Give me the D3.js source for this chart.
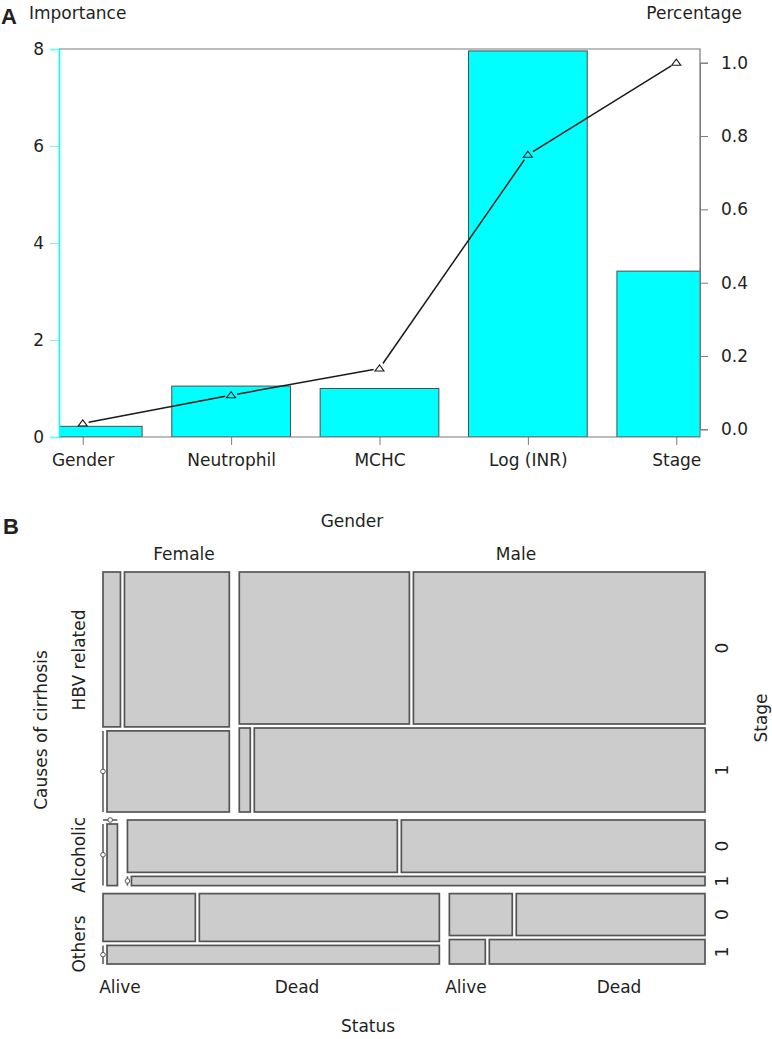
<!DOCTYPE html>
<html>
<head>
<meta charset="utf-8">
<script src="https://cdn.jsdelivr.net/npm/d3@7"></script>
<style>
  body { margin: 0; background: #fff; }
  text { font-family: "DejaVu Sans", sans-serif; fill: #231f20; }
</style>
</head>
<body>
<svg id="chart" width="772" height="1039"></svg>
<script>
// ---- panel A data
const features = ["Gender", "Neutrophil", "MCHC", "Log (INR)", "Stage"];
const importance = [0.22, 1.05, 1.00, 7.96, 3.42];
const cumPercent = [0.016, 0.093, 0.166, 0.749, 1.0];
const importanceTicks = [0, 2, 4, 6, 8];
const percentTicks = [0, 0.2, 0.4, 0.6, 0.8, 1.0];

// ---- panel B data, counts[gender][stage][status]
const causes = ["HBV related", "Alcoholic", "Others"];
const genders = ["Female", "Male"];
const stages = ["0", "1"];
const statuses = ["Alive", "Dead"];
const hbvCounts = [[[3, 18], [0, 11]], [[28, 48], [1, 41]]];
const alcoholicCounts = [[[0, 0], [0, 1]], [[16, 18], [0, 6]]];
const othersCounts = [[[5, 13], [0, 7]], [[3, 9], [1, 6]]];

const svg = d3.select('#chart');
const axisGrey = '#7a7a7a';

// ================= panel A =================
const plotA = { left: 59, right: 700, top: 49, bottom: 437 };
const x = d3.scaleLinear().domain([0.84, 5.16]).range([plotA.left, plotA.right]);
const y = d3.scaleLinear().domain([0, 8]).range([plotA.bottom, plotA.top]);
const yPct = d3.scaleLinear().domain([0, 1]).range([429.3, 62.7]);

svg.append('text').attr('x', 1).attr('y', 24)
  .style('font-family', '"Liberation Sans", Arial, sans-serif')
  .style('font-weight', 'bold').style('font-size', '22px').text('A');
svg.append('text').attr('x', 29).attr('y', 19).style('font-size', '17px').text('Importance');
svg.append('text').attr('x', 742).attr('y', 19).attr('text-anchor', 'end')
  .style('font-size', '17px').text('Percentage');

svg.append('clipPath').attr('id', 'clipA').append('rect')
  .attr('x', plotA.left).attr('y', plotA.top)
  .attr('width', plotA.right - plotA.left).attr('height', plotA.bottom - plotA.top);

let bars = svg.append('g').attr('clip-path', 'url(#clipA)')
  .selectAll('rect').data(importance);
bars.enter().append('rect')
  .attr('x', (d, i) => x(i + 1 - 0.4))
  .attr('width', x(1.8) - x(1))
  .attr('y', d => y(d))
  .attr('height', d => y(0) - y(d))
  .attr('fill', '#00ffff')
  .attr('stroke', '#4d4d4d')
  .attr('stroke-width', 1);

// box
svg.append('path')
  .attr('d', `M${plotA.left},${plotA.top}H${plotA.right}V${plotA.bottom}H${plotA.left}`)
  .attr('fill', 'none').attr('stroke', axisGrey).attr('stroke-width', 1.2);

// left axis (cyan)
const leftAxis = svg.append('g').attr('transform', `translate(${plotA.left},0)`)
  .call(d3.axisLeft(y).tickValues(importanceTicks).tickSize(9).tickPadding(6));
leftAxis.select('.domain').attr('stroke', '#00ffff').attr('stroke-width', 1.6);
leftAxis.selectAll('.tick line').attr('stroke', '#7ff0f0');
leftAxis.selectAll('.tick text').style('font-size', '17px').style('font-family', '"DejaVu Sans", sans-serif')
  .attr('fill', '#231f20');

// right axis
const rightAxis = svg.append('g').attr('transform', `translate(${plotA.right},0)`)
  .call(d3.axisRight(yPct).tickValues(percentTicks).tickFormat(d3.format('.1f')).tickSize(8).tickPadding(13));
rightAxis.select('.domain').attr('stroke', axisGrey);
rightAxis.selectAll('.tick line').attr('stroke', axisGrey);
rightAxis.selectAll('.tick text').style('font-size', '17px').style('font-family', '"DejaVu Sans", sans-serif')
  .attr('fill', '#231f20');

// bottom axis
const bottomAxis = svg.append('g').attr('transform', `translate(0,${plotA.bottom})`)
  .call(d3.axisBottom(x).tickValues(d3.range(1, 6)).tickFormat(d => features[d - 1]).tickSize(8).tickPadding(9));
bottomAxis.select('.domain').remove();
bottomAxis.selectAll('.tick line').attr('stroke', axisGrey);
bottomAxis.selectAll('.tick text').style('font-size', '17px').style('font-family', '"DejaVu Sans", sans-serif')
  .attr('fill', '#231f20');

// cumulative line, type "b" (gaps around the points)
const pts = cumPercent.map((p, i) => [x(i + 1), yPct(p)]);
const gapR = 6;
const segs = d3.pairs(pts).map(([a, b]) => {
  const dx = b[0] - a[0], dy = b[1] - a[1], len = Math.hypot(dx, dy);
  const ux = dx / len, uy = dy / len;
  return [[a[0] + ux * gapR, a[1] + uy * gapR], [b[0] - ux * gapR, b[1] - uy * gapR]];
});
svg.append('g').selectAll('line').data(segs).enter().append('line')
  .attr('x1', d => d[0][0]).attr('y1', d => d[0][1])
  .attr('x2', d => d[1][0]).attr('y2', d => d[1][1])
  .attr('stroke', '#1a1a1a').attr('stroke-width', 1.5);
svg.append('g').selectAll('path').data(pts).enter().append('path')
  .attr('d', d => `M${d[0]},${d[1] - 3.5}L${d[0] + 4.5},${d[1] + 2.5}L${d[0] - 4.5},${d[1] + 2.5}Z`)
  .attr('fill', 'none').attr('stroke', '#1a1a1a').attr('stroke-width', 1.1);

// ================= panel B (mosaic) =================
const mosaic = { left: 103, right: 705, top: 572, bottom: 964 };
const gaps = [8, 10, 4, 4];
const tableB = [hbvCounts, alcoholicCounts, othersCounts];
const total = n => Array.isArray(n) ? d3.sum(n, total) : n;

const cells = [];
function layout(node, x0, y0, w, h, level, path) {
  const vertical = level % 2 === 0;
  const extent = vertical ? h : w;
  const sizes = node.map(total);
  const s = d3.scaleLinear().domain([0, d3.sum(sizes)])
    .range([0, extent - gaps[level] * (node.length - 1)]);
  let offset = 0;
  node.forEach((child, i) => {
    const len = s(sizes[i]);
    const c = {
      x: vertical ? x0 : x0 + offset, y: vertical ? y0 + offset : y0,
      w: vertical ? w : len, h: vertical ? len : h,
      path: path.concat(i), zero: sizes[i] === 0, level: level
    };
    if (c.zero || !Array.isArray(child)) cells.push(c);
    else layout(child, c.x, c.y, c.w, c.h, level + 1, c.path);
    offset += len + gaps[level];
  });
}
layout(tableB, mosaic.left, mosaic.top, mosaic.right - mosaic.left, mosaic.bottom - mosaic.top, 0, []);

const gB = svg.append('g');
gB.selectAll('rect').data(cells.filter(c => !c.zero)).enter().append('rect')
  .attr('x', c => c.x).attr('y', c => c.y).attr('width', c => c.w).attr('height', c => c.h)
  .attr('fill', '#cccccc').attr('stroke', '#555555').attr('stroke-width', 1.7);

const zeros = cells.filter(c => c.zero);
gB.selectAll('line.zero').data(zeros).enter().append('line').attr('class', 'zero')
  .attr('x1', c => c.x).attr('y1', c => c.y)
  .attr('x2', c => c.x + c.w).attr('y2', c => c.y + c.h)
  .attr('stroke', '#555555').attr('stroke-width', 1.5);
gB.selectAll('circle').data(zeros).enter().append('circle')
  .attr('cx', c => c.x + c.w / 2).attr('cy', c => c.y + c.h / 2).attr('r', 2.3)
  .attr('fill', '#fff').attr('stroke', '#555555').attr('stroke-width', 1);

svg.append('text').attr('x', 3).attr('y', 534)
  .style('font-family', '"Liberation Sans", Arial, sans-serif')
  .style('font-weight', 'bold').style('font-size', '22px').text('B');

const label = (txt, px, py, rot) => svg.append('text')
  .attr('transform', `translate(${px},${py})${rot ? ' rotate(-90)' : ''}`)
  .attr('text-anchor', 'middle').style('font-size', '17px').text(txt);

label('Gender', 352, 527);
label('Female', 184, 560);
label('Male', 516, 560);
label('Status', 368, 1032);
label('Causes of cirrhosis', 47, 730, true);
label('Stage', 767, 718, true);

const causeLabelY = [660, 855, 944];
causes.forEach((c, i) => label(c, 85, causeLabelY[i], true));

const statusLabelX = [120, 297, 466, 619];
genders.forEach((g, gi) => statuses.forEach((s, si) => label(s, statusLabelX[gi * 2 + si], 993)));

// stage labels follow the Male column of each cause
causes.forEach((c, ci) => stages.forEach((st, si) => {
  const part = cells.filter(k => k.path[0] === ci && k.path[1] === 1 && k.path[2] === si);
  const cy = d3.mean(part, k => k.y + k.h / 2);
  label(st, 728, cy, true);
}));
</script>
</body>
</html>
